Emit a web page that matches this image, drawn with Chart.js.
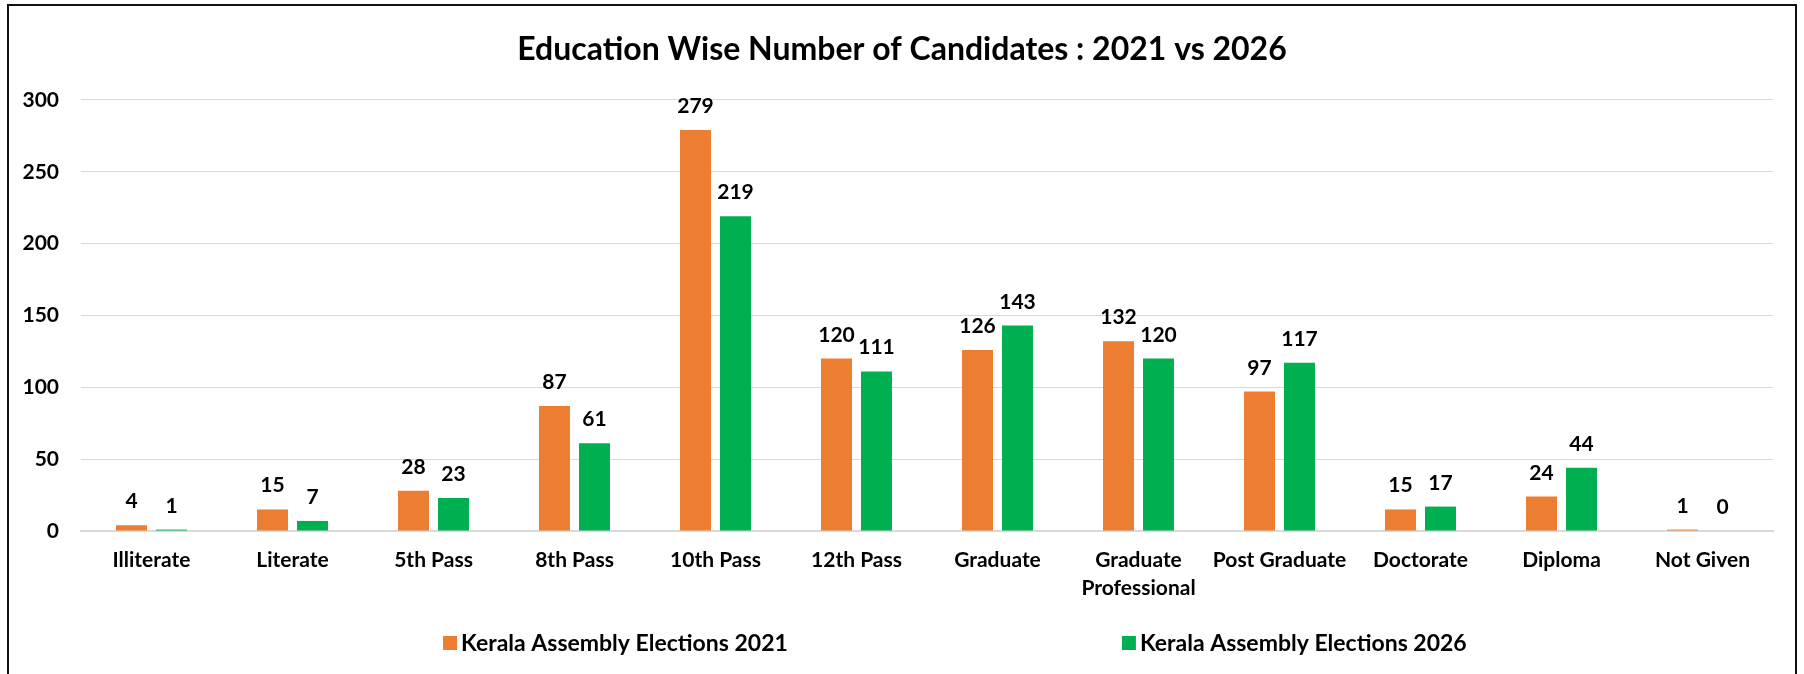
<!DOCTYPE html>
<html><head><meta charset="utf-8">
<script src="https://cdn.jsdelivr.net/npm/chart.js@4.4.0/dist/chart.umd.min.js"></script>
<style>html,body{margin:0;padding:0;background:#fff;} canvas{display:block}</style>
</head><body>
<canvas id="c" width="1804" height="674"></canvas>
<script>
const categories = ['Illiterate','Literate','5th Pass','8th Pass','10th Pass','12th Pass','Graduate',['Graduate','Professional'],'Post Graduate','Doctorate','Diploma','Not Given'];
const values2021 = [4,15,28,87,279,120,126,132,97,15,24,1];
const values2026 = [1,7,23,61,219,111,143,120,117,17,44,0];
const seriesNames = ['Kerala Assembly Elections 2021','Kerala Assembly Elections 2026'];
const seriesColors = ['#ED7D31','#00B050'];
const yTicks = [0,50,100,150,200,250,300];
const titleText = 'Education Wise Number of Candidates : 2021 vs 2026';

const FONT = 'Lato';

const frame = {
  id:'frame',
  beforeDraw(chart){ const c=chart.ctx; c.save(); c.fillStyle='#fff'; c.fillRect(0,0,chart.width,chart.height); c.restore(); },
  afterDraw(chart){ const c=chart.ctx; c.save(); c.strokeStyle='#111'; c.lineWidth=2; c.strokeRect(8,5,chart.width-16,chart.height+20); c.restore(); }
};

const valueLabels = {
  id:'valueLabels',
  afterDatasetsDraw(chart){
    const c=chart.ctx; c.save();
    c.font='bold 21px '+FONT; c.fillStyle='#000'; c.textAlign='center'; c.textBaseline='alphabetic';
    chart.data.datasets.forEach((ds,di)=>{
      chart.getDatasetMeta(di).data.forEach((bar,i)=>{ c.fillText(String(ds.data[i]), bar.x, bar.y-17); });
    });
    c.restore();
  }
};

const customLegend = {
  id:'customLegend',
  afterDraw(chart){
    const c=chart.ctx; c.save();
    c.font='bold 23px '+FONT; c.textAlign='left'; c.textBaseline='middle';
    const starts=[chart.width*0.2456, chart.width*0.6219];
    const y=643, box=14;
    chart.data.datasets.forEach((ds,i)=>{
      c.fillStyle=ds.backgroundColor; c.fillRect(starts[i], y-box/2, box, box);
      c.fillStyle='#000'; c.fillText(ds.label, starts[i]+box+4, y+1);
    });
    c.restore();
  }
};

new Chart(document.getElementById('c'), {
  type:'bar',
  data:{
    labels:categories,
    datasets:[
      {label:seriesNames[0], data:values2021, backgroundColor:seriesColors[0], borderWidth:0, categoryPercentage:0.567, barPercentage:0.775},
      {label:seriesNames[1], data:values2026, backgroundColor:seriesColors[1], borderWidth:0, categoryPercentage:0.567, barPercentage:0.775}
    ]
  },
  options:{
    responsive:false, animation:false, devicePixelRatio:1,
    layout:{padding:{left:0,right:0,top:0,bottom:63}},
    plugins:{
      legend:{display:false}, tooltip:{enabled:false},
      title:{display:true, text:titleText, color:'#000', font:{family:FONT,size:32,weight:'bold',lineHeight:1.2}, padding:{top:30,bottom:31.5}}
    },
    scales:{
      x:{
        grid:{display:false, drawTicks:false},
        border:{display:true, color:'#d9d9d9', width:2},
        ticks:{color:'#000', font:{family:FONT,size:21,weight:'bold',lineHeight:1.3}, padding:16, maxRotation:0, autoSkip:false},
        afterFit(s){ s.height=80; }
      },
      y:{
        min:0, max:300,
        grid:{color:'#d9d9d9', lineWidth:1, drawTicks:false},
        border:{display:false},
        ticks:{color:'#000', font:{family:FONT,size:21,weight:'bold'}, padding:22},
        afterBuildTicks(s){ s.ticks = yTicks.map(v=>({value:v})); },
        afterFit(s){ s.width=81; }
      },
      yPad:{
        position:'right', display:true,
        grid:{display:false, drawTicks:false}, border:{display:false},
        ticks:{display:false},
        afterFit(s){ s.width=31; }
      }
    }
  },
  plugins:[frame, valueLabels, customLegend]
});
</script>
</body></html>
